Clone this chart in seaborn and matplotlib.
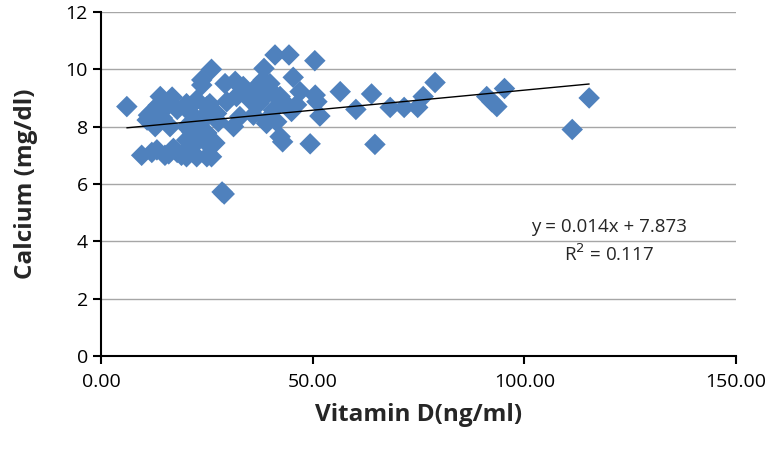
import matplotlib
matplotlib.use("Agg")
import matplotlib.pyplot as plt
import seaborn as sns
import pandas as pd

vitamin_d = [6.1, 9.6, 11.2, 10.9, 14.0, 15.5, 12.8, 16.3, 13.2, 15.1, 17.1, 20.2, 22.6, 25.0,
             23.8, 23.8, 26.1, 20.2, 22.6, 25.0, 20.2, 22.6, 25.0, 26.9, 20.2, 23.4, 29.1, 28.6,
             41.1, 44.4, 38.5, 50.5, 29.3, 31.7, 33.6, 36.8, 39.9, 45.4, 38.3, 25.7, 29.7, 32.0,
             35.2, 37.2, 39.1, 41.5, 40.7, 44.3, 32.8, 36.0, 27.3, 24.2, 31.3, 39.1, 41.5, 25.0,
             42.3, 25.0, 26.1, 27.7, 42.9, 39.9, 42.3, 47.0, 50.6, 51.0, 46.2, 45.0, 39.1, 51.7,
             49.4, 56.5, 63.9, 60.2, 68.3, 71.6, 74.8, 76.1, 78.9, 64.7, 91.1, 92.3, 93.5, 95.3,
             115.3, 111.3, 18.0, 16.8, 12.0, 13.5, 19.0, 18.0, 21.5, 14.5, 21.0, 16.0, 12.0, 21.5]
calcium = [8.7, 7.0, 8.4, 8.23, 9.05, 8.7, 8.0, 8.0, 7.19, 7.0, 7.24, 8.8, 8.93, 8.7,
           9.45, 9.63, 10.0, 6.95, 6.95, 6.95, 7.53, 7.65, 7.78, 7.43, 8.0, 8.23, 5.65, 5.72,
           10.5, 10.5, 10.03, 10.3, 9.5, 9.58, 9.4, 9.4, 9.5, 9.72, 9.63, 8.8, 8.87, 9.05,
           8.93, 8.8, 9.1, 9.05, 8.58, 8.7, 8.35, 8.4, 8.46, 8.23, 8.0, 8.11, 8.17, 7.65,
           7.65, 7.42, 6.95, 8.17, 7.47, 9.28, 9.05, 9.22, 9.1, 8.87, 8.76, 8.53, 8.23, 8.37,
           7.4, 9.22, 9.14, 8.6, 8.67, 8.67, 8.67, 9.05, 9.54, 7.38, 9.05, 8.87, 8.7, 9.33,
           9.0, 7.9, 8.6, 9.03, 8.5, 8.75, 7.0, 7.1, 7.3, 8.3, 8.5, 7.05, 7.1, 7.8]

slope = 0.014
intercept = 7.873
eq_text = "y = 0.014x + 7.873"
r2_text = "R$^2$ = 0.117"
x_ticks = [0, 50, 100, 150]
x_tick_labels = ["0.00", "50.00", "100.00", "150.00"]
y_ticks = [0, 2, 4, 6, 8, 10, 12]

df = pd.DataFrame({"Vitamin D": vitamin_d, "Calcium": calcium})

sns.set_style("white")
plt.rcParams["font.family"] = ["Open Sans", "DejaVu Sans"]

fig = plt.figure(figsize=(7.74, 4.54), dpi=100)
ax = fig.add_axes([0.1305, 0.216, 0.8205, 0.7576])

sns.scatterplot(data=df, x="Vitamin D", y="Calcium", ax=ax, marker="D", s=120,
                color="#4F81BD", edgecolor="none", zorder=3)

xmin, xmax = min(vitamin_d), max(vitamin_d)
ax.plot([xmin, xmax], [intercept + slope * xmin, intercept + slope * xmax],
        color="black", lw=1.0, zorder=4)

ax.set_xlim(0, 150)
ax.set_ylim(0, 12)
ax.set_xticks(x_ticks)
ax.set_xticklabels(x_tick_labels)
ax.set_yticks(y_ticks)
ax.yaxis.grid(True, color="#A6A6A6", lw=1.0, zorder=0)
ax.xaxis.grid(False)
ax.set_axisbelow(True)

for s in ["top", "right"]:
    ax.spines[s].set_visible(False)
for s in ["left", "bottom"]:
    ax.spines[s].set_color("black")
    ax.spines[s].set_linewidth(1.5)

ax.tick_params(axis="both", which="major", labelsize=14, length=6, width=1.5,
               direction="out", colors="black", bottom=True, left=True)
ax.tick_params(axis="x", pad=6)

ax.set_xlabel("Vitamin D(ng/ml)", fontsize=17.5, fontweight="bold", labelpad=9)
ax.set_ylabel("Calcium (mg/dl)", fontsize=17.5, fontweight="bold", labelpad=20)

ax.text(120, 4.5, eq_text, fontsize=13.5, ha="center", va="center", color="#262626")
ax.text(120, 3.55, r2_text, fontsize=13.5, ha="center", va="center", color="#262626")

fig.savefig("out.png", dpi=100)
